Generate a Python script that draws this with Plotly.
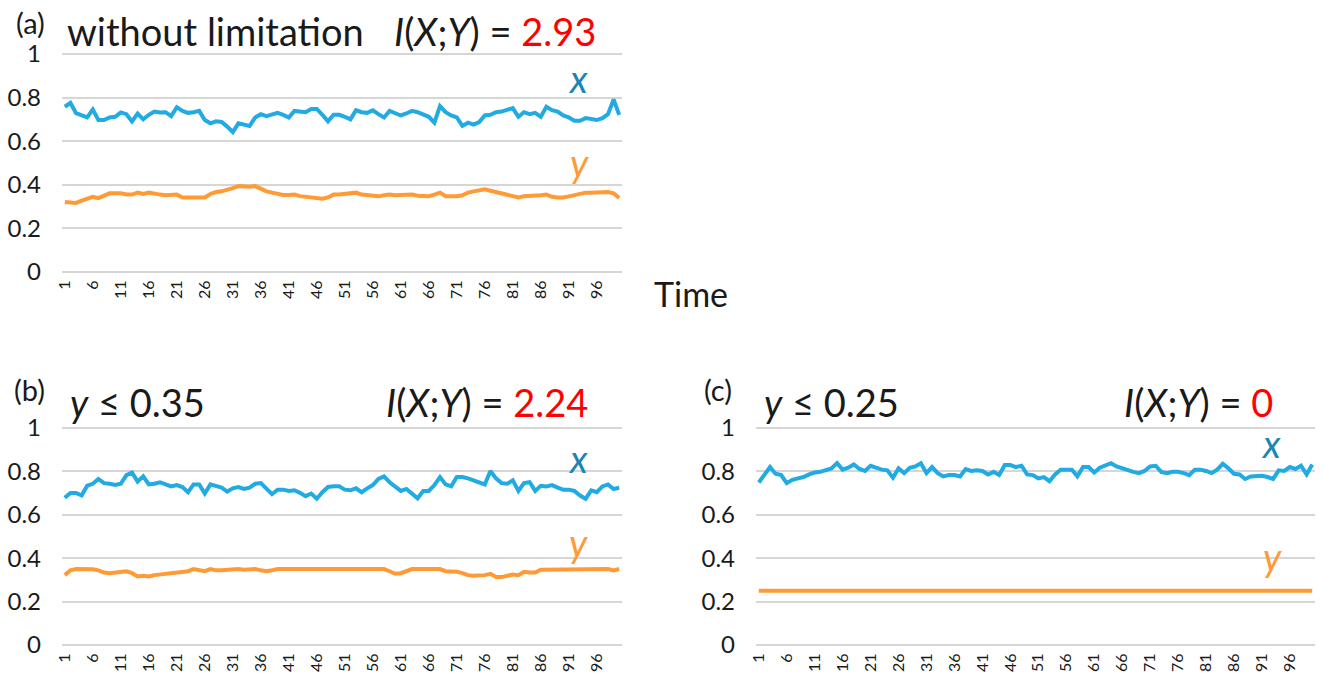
import plotly.graph_objects as go

# ---------------- data ----------------
time_steps = list(range(1, 101))
tick_vals = list(range(1, 100, 5))
tick_text = [str(v) for v in tick_vals]
y_ticks = [0, 0.2, 0.4, 0.6, 0.8, 1]
y_tick_text = ["0", "0.2", "0.4", "0.6", "0.8", "1"]

# (a) without limitation
a_x = [0.758, 0.776, 0.729, 0.718, 0.709, 0.745, 0.697, 0.697, 0.709, 0.712,
       0.732, 0.724, 0.691, 0.727, 0.700, 0.721, 0.736, 0.732, 0.733, 0.715,
       0.756, 0.739, 0.730, 0.733, 0.739, 0.697, 0.682, 0.691, 0.688, 0.667,
       0.642, 0.682, 0.676, 0.670, 0.709, 0.724, 0.715, 0.724, 0.730, 0.721,
       0.709, 0.739, 0.736, 0.733, 0.748, 0.748, 0.721, 0.691, 0.721, 0.721,
       0.712, 0.700, 0.742, 0.733, 0.730, 0.742, 0.724, 0.709, 0.739, 0.727,
       0.718, 0.727, 0.739, 0.733, 0.724, 0.712, 0.685, 0.761, 0.733, 0.718,
       0.709, 0.670, 0.685, 0.676, 0.688, 0.718, 0.721, 0.733, 0.736, 0.742,
       0.752, 0.712, 0.733, 0.724, 0.730, 0.712, 0.758, 0.742, 0.736, 0.718,
       0.709, 0.694, 0.694, 0.706, 0.703, 0.697, 0.706, 0.724, 0.791, 0.721]
a_y = [0.321, 0.321, 0.317, 0.327, 0.336, 0.345, 0.339, 0.352, 0.361, 0.361,
       0.361, 0.356, 0.355, 0.364, 0.358, 0.364, 0.358, 0.355, 0.352, 0.352,
       0.355, 0.342, 0.341, 0.342, 0.342, 0.342, 0.358, 0.367, 0.370, 0.376,
       0.385, 0.394, 0.391, 0.391, 0.394, 0.382, 0.370, 0.364, 0.358, 0.353,
       0.353, 0.355, 0.348, 0.345, 0.345, 0.341, 0.336, 0.342, 0.355, 0.355,
       0.358, 0.358, 0.364, 0.355, 0.352, 0.350, 0.347, 0.352, 0.355, 0.352,
       0.352, 0.355, 0.355, 0.350, 0.348, 0.348, 0.355, 0.364, 0.348, 0.347,
       0.348, 0.352, 0.364, 0.370, 0.374, 0.379, 0.373, 0.367, 0.361, 0.355,
       0.348, 0.342, 0.348, 0.348, 0.352, 0.352, 0.355, 0.345, 0.342, 0.342,
       0.347, 0.352, 0.359, 0.364, 0.364, 0.365, 0.367, 0.367, 0.361, 0.339]

# (b) y <= 0.35
b_x = [0.679, 0.701, 0.701, 0.689, 0.734, 0.743, 0.765, 0.746, 0.743, 0.737,
       0.743, 0.783, 0.795, 0.753, 0.777, 0.740, 0.743, 0.750, 0.740, 0.731,
       0.737, 0.728, 0.704, 0.740, 0.740, 0.698, 0.740, 0.734, 0.725, 0.707,
       0.722, 0.728, 0.719, 0.725, 0.743, 0.746, 0.722, 0.695, 0.716, 0.716,
       0.710, 0.713, 0.701, 0.686, 0.698, 0.674, 0.704, 0.728, 0.731, 0.731,
       0.716, 0.713, 0.722, 0.704, 0.722, 0.737, 0.765, 0.777, 0.750, 0.728,
       0.710, 0.719, 0.695, 0.676, 0.710, 0.710, 0.737, 0.774, 0.740, 0.731,
       0.774, 0.774, 0.768, 0.759, 0.750, 0.740, 0.802, 0.768, 0.746, 0.743,
       0.759, 0.710, 0.746, 0.750, 0.710, 0.734, 0.731, 0.737, 0.725, 0.716,
       0.716, 0.710, 0.689, 0.674, 0.713, 0.704, 0.731, 0.740, 0.719, 0.725]
b_y = [0.322, 0.344, 0.350, 0.350, 0.350, 0.349, 0.344, 0.334, 0.331, 0.334,
       0.337, 0.340, 0.331, 0.316, 0.319, 0.316, 0.322, 0.325, 0.328, 0.331,
       0.334, 0.337, 0.340, 0.350, 0.344, 0.340, 0.350, 0.344, 0.344, 0.347,
       0.350, 0.350, 0.347, 0.350, 0.350, 0.344, 0.340, 0.344, 0.350, 0.350,
       0.350, 0.350, 0.350, 0.350, 0.350, 0.350, 0.350, 0.350, 0.350, 0.350,
       0.350, 0.350, 0.350, 0.350, 0.350, 0.350, 0.350, 0.350, 0.340, 0.328,
       0.331, 0.340, 0.350, 0.350, 0.350, 0.350, 0.350, 0.350, 0.340, 0.340,
       0.338, 0.331, 0.322, 0.319, 0.319, 0.322, 0.328, 0.313, 0.313, 0.319,
       0.325, 0.322, 0.337, 0.334, 0.334, 0.347, 0.347, 0.347, 0.347, 0.350,
       0.350, 0.350, 0.350, 0.350, 0.350, 0.350, 0.350, 0.350, 0.344, 0.350]

# (c) y <= 0.25
c_x = [0.749, 0.786, 0.820, 0.789, 0.783, 0.746, 0.761, 0.768, 0.774, 0.786,
       0.795, 0.798, 0.805, 0.814, 0.838, 0.808, 0.817, 0.832, 0.811, 0.802,
       0.826, 0.817, 0.808, 0.805, 0.771, 0.814, 0.792, 0.817, 0.823, 0.838,
       0.792, 0.820, 0.792, 0.777, 0.783, 0.783, 0.777, 0.811, 0.802, 0.805,
       0.802, 0.786, 0.798, 0.783, 0.829, 0.829, 0.820, 0.826, 0.786, 0.783,
       0.768, 0.774, 0.755, 0.786, 0.808, 0.808, 0.808, 0.777, 0.820, 0.820,
       0.795, 0.817, 0.829, 0.838, 0.823, 0.814, 0.808, 0.798, 0.792, 0.802,
       0.823, 0.826, 0.798, 0.792, 0.798, 0.798, 0.792, 0.783, 0.808, 0.808,
       0.802, 0.792, 0.808, 0.835, 0.814, 0.789, 0.786, 0.765, 0.777, 0.780,
       0.780, 0.774, 0.765, 0.805, 0.802, 0.820, 0.811, 0.826, 0.786, 0.832]
c_y = [0.25, 0.25, 0.25, 0.25, 0.25, 0.25, 0.25, 0.25, 0.25, 0.25,
       0.25, 0.25, 0.25, 0.25, 0.25, 0.25, 0.25, 0.25, 0.25, 0.25,
       0.25, 0.25, 0.25, 0.25, 0.25, 0.25, 0.25, 0.25, 0.25, 0.25,
       0.25, 0.25, 0.25, 0.25, 0.25, 0.25, 0.25, 0.25, 0.25, 0.25,
       0.25, 0.25, 0.25, 0.25, 0.25, 0.25, 0.25, 0.25, 0.25, 0.25,
       0.25, 0.25, 0.25, 0.25, 0.25, 0.25, 0.25, 0.25, 0.25, 0.25,
       0.25, 0.25, 0.25, 0.25, 0.25, 0.25, 0.25, 0.25, 0.25, 0.25,
       0.25, 0.25, 0.25, 0.25, 0.25, 0.25, 0.25, 0.25, 0.25, 0.25,
       0.25, 0.25, 0.25, 0.25, 0.25, 0.25, 0.25, 0.25, 0.25, 0.25,
       0.25, 0.25, 0.25, 0.25, 0.25, 0.25, 0.25, 0.25, 0.25, 0.25]

panel_labels = ["(a)", "(b)", "(c)"]
panel_titles = ["without limitation", "<i>y</i> ≤ 0.35", "<i>y</i> ≤ 0.25"]
mi_values = ["2.93", "2.24", "0"]

# ---------------- style ----------------
W, H = 1323, 676
FONT = "Lato, 'Open Sans', sans-serif"
BLUE = "#21ABE2"
ORANGE = "#FF9A35"
XLBL = "#1B85B5"
GRID = "#D6D6D6"
TXT = "#1a1a1a"
PAD = 0.01  # small range padding so the 0 and 1 gridlines fit


def px_x(p):
    return p / W


def px_y(p):
    return 1 - p / H


panels = [
    dict(x0=62, x1=622, y0=54, y1=272, xs=a_x, ys=a_y),
    dict(x0=62, x1=622, y0=428, y1=645, xs=b_x, ys=b_y),
    dict(x0=756, x1=1315, y0=428, y1=645, xs=c_x, ys=c_y),
]

fig = go.Figure()
layout = dict(
    template="none",
    width=W, height=H,
    margin=dict(l=0, r=0, t=0, b=0, pad=0),
    paper_bgcolor="white", plot_bgcolor="white",
    showlegend=False,
    font=dict(family=FONT, color=TXT),
)

annotations = []
for i, p in enumerate(panels):
    n = "" if i == 0 else str(i + 1)
    xa, ya = "x" + n, "y" + n
    hpx = p["y1"] - p["y0"]
    top = p["y0"] - PAD * hpx
    bot = p["y1"] + PAD * hpx
    fig.add_trace(go.Scatter(x=time_steps, y=p["xs"], mode="lines",
                             line=dict(color=BLUE, width=4),
                             xaxis=xa, yaxis=ya, name="x"))
    fig.add_trace(go.Scatter(x=time_steps, y=p["ys"], mode="lines",
                             line=dict(color=ORANGE, width=4),
                             xaxis=xa, yaxis=ya, name="y"))
    layout["xaxis" + n] = dict(
        domain=[px_x(p["x0"]), px_x(p["x1"])], anchor=ya, automargin=False,
        range=[0.5, 100.5], tickmode="array", tickvals=tick_vals,
        ticktext=tick_text, tickangle=-90, showgrid=False, zeroline=False,
        showline=False, ticks="", ticklabelstandoff=2,
        tickfont=dict(size=16, family=FONT, color=TXT),
    )
    layout["yaxis" + n] = dict(
        domain=[px_y(bot), px_y(top)], anchor=xa, automargin=False,
        range=[-PAD, 1 + PAD], tickmode="array", tickvals=y_ticks,
        ticktext=y_tick_text,
        showgrid=True, gridcolor=GRID, gridwidth=1.5, zeroline=False,
        showline=False, ticks="", ticklabelstandoff=20,
        tickfont=dict(size=24, family=FONT, color=TXT),
    )

# panel labels / titles
label_pos = [(30, 22), (29, 390), (718, 390)]
title_pos = [(65, 31), (68, 402), (762, 402)]
mi_pos = [(598, 31), (590, 402), (1275, 402)]
x_lbl_pos = [(578, 78), (578, 458), (1271, 443)]
y_lbl_pos = [(579, 162), (578, 542), (1272, 556)]

for i in range(3):
    lx, ly = label_pos[i]
    annotations.append(dict(x=px_x(lx), y=px_y(ly), xref="paper", yref="paper",
                            text=panel_labels[i], showarrow=False,
                            xanchor="center", yanchor="middle",
                            font=dict(size=29, family=FONT, color=TXT)))
    tx, ty = title_pos[i]
    annotations.append(dict(x=px_x(tx), y=px_y(ty), xref="paper", yref="paper",
                            text=panel_titles[i], showarrow=False,
                            xanchor="left", yanchor="middle",
                            font=dict(size=38, family=FONT, color=TXT)))
    mx, my = mi_pos[i]
    annotations.append(dict(x=px_x(mx), y=px_y(my), xref="paper", yref="paper",
                            text="<i>I</i>(<i>X</i>;<i>Y</i>) = "
                                 f"<span style='color:#FF0000'>{mi_values[i]}</span>",
                            showarrow=False, xanchor="right", yanchor="middle",
                            font=dict(size=38, family=FONT, color=TXT)))
    xx, xy = x_lbl_pos[i]
    annotations.append(dict(x=px_x(xx), y=px_y(xy), xref="paper", yref="paper",
                            text="<i>x</i>", showarrow=False,
                            xanchor="center", yanchor="middle",
                            font=dict(size=38, family=FONT, color=XLBL)))
    yx, yy = y_lbl_pos[i]
    annotations.append(dict(x=px_x(yx), y=px_y(yy), xref="paper", yref="paper",
                            text="<i>y</i>", showarrow=False,
                            xanchor="center", yanchor="middle",
                            font=dict(size=38, family=FONT, color=ORANGE)))

annotations.append(dict(x=px_x(691), y=px_y(293), xref="paper", yref="paper",
                        text="Time", showarrow=False, xanchor="center",
                        yanchor="middle", font=dict(size=34, family=FONT, color=TXT)))

layout["annotations"] = annotations
fig.update_layout(**layout)
fig.write_html(
    "out.html",
    config={"displayModeBar": False},
    post_script="document.body.style.margin='0';"
                "document.body.style.overflow='hidden';",
)
